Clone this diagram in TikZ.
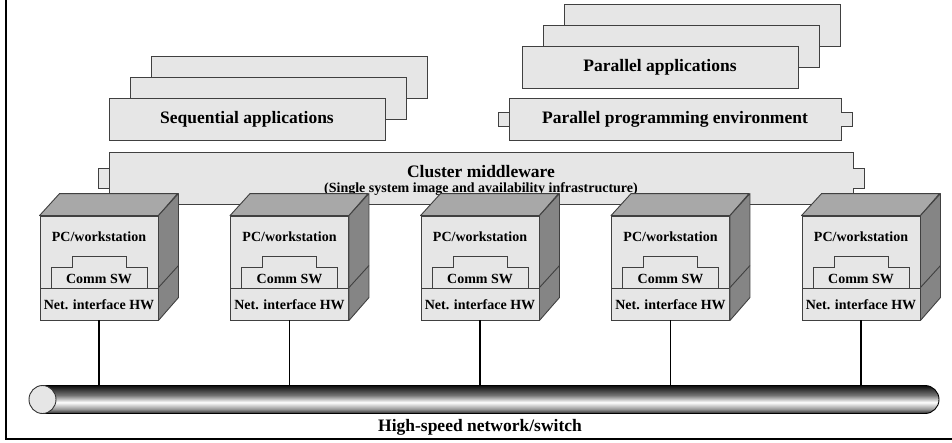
\documentclass[tikz,border=0pt]{standalone}
\usepackage{fontspec}
\setmainfont{Liberation Serif}
\usetikzlibrary{calc,shapes.geometric}
\definecolor{boxfill}{HTML}{E6E6E6}
\definecolor{topface}{HTML}{A8A8A8}
\definecolor{sideface}{HTML}{858585}
\definecolor{edge}{HTML}{404040}
\pgfdeclareverticalshading{pipe}{100bp}{color(0bp)=(black!85); color(25bp)=(black!85); color(33bp)=(black!40); color(45bp)=(white); color(58bp)=(black!55); color(75bp)=(black!95); color(100bp)=(black!95)}
\tikzset{
  appbox/.style={draw=edge, fill=boxfill, line width=0.9pt, minimum width=276pt, minimum height=42pt, inner sep=0pt, font=\bfseries\fontsize{17.5}{20}\selectfont},
  tabbox/.style={draw=edge, fill=boxfill, line width=0.9pt},
  bigbox/.style={draw=edge, fill=boxfill, line width=0.9pt, inner sep=0pt},
  bigtext/.style={font=\bfseries\fontsize{17.5}{20}\selectfont, inner sep=0pt},
  subtext/.style={font=\bfseries\fontsize{14}{16}\selectfont, inner sep=0pt},
  pcface/.style={draw=edge, fill=boxfill, line width=0.9pt, minimum width=118pt, inner sep=0pt},
  pctext/.style={font=\bfseries\fontsize{14}{16}\selectfont, inner sep=0pt},
  topf/.style={draw=edge, fill=topface, line width=0.9pt, line join=round},
  sidef/.style={draw=edge, fill=sideface, line width=0.9pt, line join=round},
  link/.style={draw=black, line width=1.6pt},
  frame/.style={draw=black, line width=2pt}
}
\begin{document}
\begin{tikzpicture}[x=1pt,y=-1pt]
\useasboundingbox (0,0) rectangle (952,442);
% frame (left and bottom)
\draw[frame] (5.5,0) -- (5.5,439) -- (952,439);

% Sequential applications stack
\node[appbox] (seqc) at (289,77.5) {};
\node[appbox] (seqb) at (268,98.5) {};
\node[appbox] (seq) at (247,119.5) {Sequential applications};

% Parallel applications stack
\node[appbox] (parc) at (702,25) {};
\node[appbox] (parb) at (681,46) {};
\node[appbox] (par) at (660,67) {Parallel applications};

% Parallel programming environment
\node[bigbox, minimum width=332pt, minimum height=42pt] (ppe) at (675,119) {};
\filldraw[tabbox] ($(ppe.west)+(0.45,-7)$) -- ++(-11,0) -- ++(0,14) -- ++(11,0);
\filldraw[tabbox] ($(ppe.east)+(-0.45,-7)$) -- ++(11,0) -- ++(0,14) -- ++(-11,0);
\node[bigtext] (ppet) at (675,119.5) {Parallel programming environment};

% Cluster middleware
\node[bigbox, minimum width=744pt, minimum height=52pt] (mw) at (481,178) {};
\filldraw[tabbox] ($(mw.west)+(0.45,-10)$) -- ++(-11,0) -- ++(0,20) -- ++(11,0);
\filldraw[tabbox] ($(mw.east)+(-0.45,-10)$) -- ++(11,0) -- ++(0,20) -- ++(-11,0);
\node[bigtext] (mwt) at (481,171.5) {Cluster middleware};
\node[subtext] (mws) at (481,189) {(Single system image and availability infrastructure)};

% network pipe
\coordinate (pipetop) at (0,385.5);
\shade[shading=pipe] (42.5,385.5) -- (925,385.5) arc[start angle=-90, end angle=90, x radius=14, y radius=14] -- (42.5,413.5) -- cycle;
\draw[draw=black, line width=0.9pt] (42.5,385.5) -- (925,385.5) arc[start angle=-90, end angle=90, x radius=14, y radius=14] -- (42.5,413.5);
\node[draw=black!80, fill=boxfill, line width=0.9pt, ellipse, minimum width=27pt, minimum height=28pt, inner sep=0pt] (pipeend) at (42.5,399.5) {};
\node[bigtext] (net) at (480,427) {High-speed network/switch};

% PC / workstation boxes
\foreach \i in {1,...,5}{
  \pgfmathsetmacro{\cx}{99+190.5*(\i-1)}
  \node[pcface, minimum height=72pt] (pc\i) at (\cx,252) {};
  \node[pcface, minimum height=32pt] (nic\i) at (\cx,304) {};
  \filldraw[topf] (pc\i.north west) -- ++(20,-22) -- ++(118,0) -- (pc\i.north east) -- cycle;
  \filldraw[sidef] (pc\i.north east) -- ++(20,-22) -- ++(0,104) -- (nic\i.south east) -- cycle;
  \draw[draw=edge, line width=0.9pt] (nic\i.north east) -- ++(20,-22);
  \node[pctext] (pcl\i) at (\cx,237) {PC/workstation};
  \draw[draw=edge, line width=0.9pt] ($(nic\i.north)+(-48,0)$) -- ++(0,-20) -- ++(21,0) -- ++(0,-11) -- ++(54,0) -- ++(0,11) -- ++(21,0) -- ++(0,20);
  \node[pctext] (comm\i) at (\cx,278.5) {Comm SW};
  \node[pctext] (nicl\i) at (\cx,305) {Net. interface HW};
  \draw[link] (nic\i.south) -- (nic\i.south |- pipetop);
}
\end{tikzpicture}
\end{document}
